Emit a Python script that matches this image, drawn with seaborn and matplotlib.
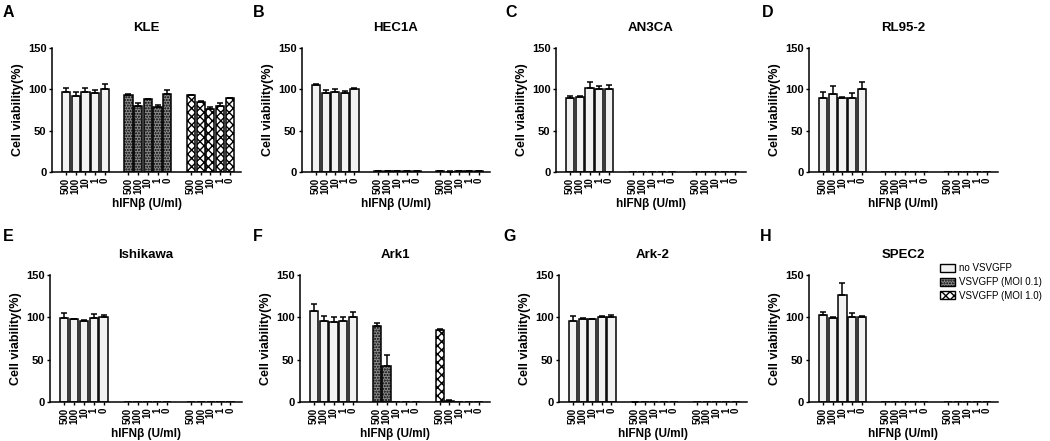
import numpy as np
import pandas as pd
import matplotlib
matplotlib.use("Agg")
import matplotlib.pyplot as plt
import matplotlib.patches as mpatches
import seaborn as sns

sns.set_style("ticks")
plt.rcParams["font.family"] = ["Liberation Sans", "DejaVu Sans"]
plt.rcParams["text.color"] = "black"
plt.rcParams["axes.labelcolor"] = "black"
plt.rcParams["xtick.color"] = "black"
plt.rcParams["ytick.color"] = "black"
plt.rcParams["axes.edgecolor"] = "black"

# ---------------- data ----------------
doses = ["500", "100", "10", "1", "0"]
treatments = ["no VSVGFP", "VSVGFP (MOI 0.1)", "VSVGFP (MOI 1.0)"]
cell_lines = ["KLE", "HEC1A", "AN3CA", "RL95-2", "Ishikawa", "Ark1", "Ark-2", "SPEC2"]
panel_letters = ["A", "B", "C", "D", "E", "F", "G", "H"]

kle_mean = [[97, 92, 97, 96, 100], [93, 80, 88, 79, 94], [93, 85, 76, 80, 89]]
kle_err = [[5, 5, 5, 3, 6], [1.5, 4, 0.5, 2, 5], [0.5, 1, 3, 4, 1]]
hec1a_mean = [[105, 95, 97, 96, 100], [1, 1, 1, 1, 1], [1, 0.5, 1, 1, 1]]
hec1a_err = [[2, 4, 4, 2, 2], [0.5, 0.5, 0.5, 0.5, 0.5], [0.5, 0.5, 0.5, 0.5, 0.5]]
an3ca_mean = [[89, 91, 102, 100, 100], [0, 0, 0, 0, 0], [0, 0, 0, 0, 0]]
an3ca_err = [[3, 1.5, 7, 4, 5], [0, 0, 0, 0, 0], [0, 0, 0, 0, 0]]
rl952_mean = [[90, 94, 90, 89, 100], [0, 0, 0, 0, 0], [0, 0, 0, 0, 0]]
rl952_err = [[7, 10, 1, 6, 9], [0, 0, 0, 0, 0], [0, 0, 0, 0, 0]]
ishikawa_mean = [[99, 97.5, 96, 99, 100], [0, 0, 0, 0, 0], [0, 0, 0, 0, 0]]
ishikawa_err = [[6, 1, 1, 5, 3], [0, 0, 0, 0, 0], [0, 0, 0, 0, 0]]
ark1_mean = [[107, 96, 95, 96, 100], [90, 42, 0, 0, 0], [85, 1, 0, 0, 0]]
ark1_err = [[9, 6, 5, 4, 6], [3, 13, 0, 0, 0], [1.5, 1, 0, 0, 0]]
ark2_mean = [[96, 98.5, 98, 100.5, 100], [0.5, 0, 0, 0, 0], [0, 0, 0, 0, 0]]
ark2_err = [[6, 1, 0.5, 1, 3], [0, 0, 0, 0, 0], [0, 0, 0, 0, 0]]
spec2_mean = [[102.5, 99, 126, 100, 100], [0, 0, 0, 0, 0], [0, 0, 0, 0, 0]]
spec2_err = [[4, 1.5, 14, 5, 1.5], [0, 0, 0, 0, 0], [0, 0, 0, 0, 0]]

all_means = [kle_mean, hec1a_mean, an3ca_mean, rl952_mean,
             ishikawa_mean, ark1_mean, ark2_mean, spec2_mean]
all_errs = [kle_err, hec1a_err, an3ca_err, rl952_err,
            ishikawa_err, ark1_err, ark2_err, spec2_err]

# ---------------- styling ----------------
face_colors = ["#f2f2f2", "#8c8c8c", "#ffffff"]
hatches = ["", "......", "xxxx"]
group_step = 6.45

W, H = 1050, 441
fig = plt.figure(figsize=(W / 100, H / 100), dpi=100)

# axes boxes in pixels: (left, right, top, bottom)
boxes = [(52, 241, 48, 172), (302, 490, 48, 172), (556, 746, 48, 172), (809, 998, 48, 172),
         (50, 242, 275, 402), (300, 490, 275, 402), (559, 747, 275, 402), (809, 998, 275, 402)]
letter_pos = [(3, 5), (253, 5), (505, 5), (762, 5), (3, 229), (253, 229), (503, 229), (760, 229)]

bold = {"fontweight": "bold"}

for k, name in enumerate(cell_lines):
    l, r, t, b = boxes[k]
    ax = fig.add_axes([l / W, 1 - b / H, (r - l) / W, (b - t) / H])
    means = all_means[k]
    errs = all_errs[k]
    all_pos = []
    for g in range(3):
        pos = [g * group_step + i for i in range(len(doses))]
        all_pos += pos
        df = pd.DataFrame({"pos": pos, "viability": means[g]})
        n_before = len(ax.patches)
        sns.barplot(data=df, x="pos", y="viability", native_scale=True,
                    color=face_colors[g], saturation=1, edgecolor="black",
                    linewidth=1.1, width=0.85, errorbar=None, ax=ax)
        for p in ax.patches[n_before:]:
            p.set_facecolor(face_colors[g])
            p.set_edgecolor("black")
            if hatches[g]:
                p.set_hatch(hatches[g])
        sel = [i for i in range(len(doses)) if not (means[g][i] == 0 and errs[g][i] == 0)]
        if sel:
            ax.errorbar([pos[i] for i in sel], [means[g][i] for i in sel],
                        yerr=[[0] * len(sel), [errs[g][i] for i in sel]],
                        fmt="none", ecolor="black", elinewidth=1.1,
                        capsize=2.5, capthick=1.1, zorder=1)
    ax.set_xlim(-1.45, 2 * group_step + 4 + 1.17)
    ax.set_ylim(0, 150)
    ax.set_yticks([0, 50, 100, 150])
    ax.set_yticklabels(["0", "50", "100", "150"], fontsize=8, **bold)
    ax.set_xticks(all_pos)
    ax.set_xticklabels(doses * 3, rotation=90, fontsize=7, **bold)
    ax.tick_params(axis="both", length=2.5, width=1.0, pad=1.5)
    for s in ["top", "right"]:
        ax.spines[s].set_visible(False)
    for s in ["left", "bottom"]:
        ax.spines[s].set_linewidth(1.1)
    ax.set_xlabel("hIFNβ (U/ml)", fontsize=8.5, labelpad=3, **bold)
    ax.set_ylabel("Cell viability(%)", fontsize=9, labelpad=3, **bold)
    ax.set_title(name, fontsize=9.5, pad=12, **bold)
    lx, ly = letter_pos[k]
    fig.text(lx / W, 1 - ly / H, panel_letters[k], fontsize=11.5, va="top", ha="left", **bold)

# legend
handles = [mpatches.Patch(facecolor=face_colors[g], edgecolor="black", hatch=hatches[g],
                          linewidth=1.0, label=treatments[g]) for g in range(3)]
fig.legend(handles=handles, loc="upper left", bbox_to_anchor=(940 / W, 1 - 263 / H),
           frameon=False, fontsize=7, handlelength=1.5, handleheight=0.9,
           handletextpad=0.5, labelspacing=0.4, borderaxespad=0, borderpad=0)

fig.savefig("out.png", dpi=100)
